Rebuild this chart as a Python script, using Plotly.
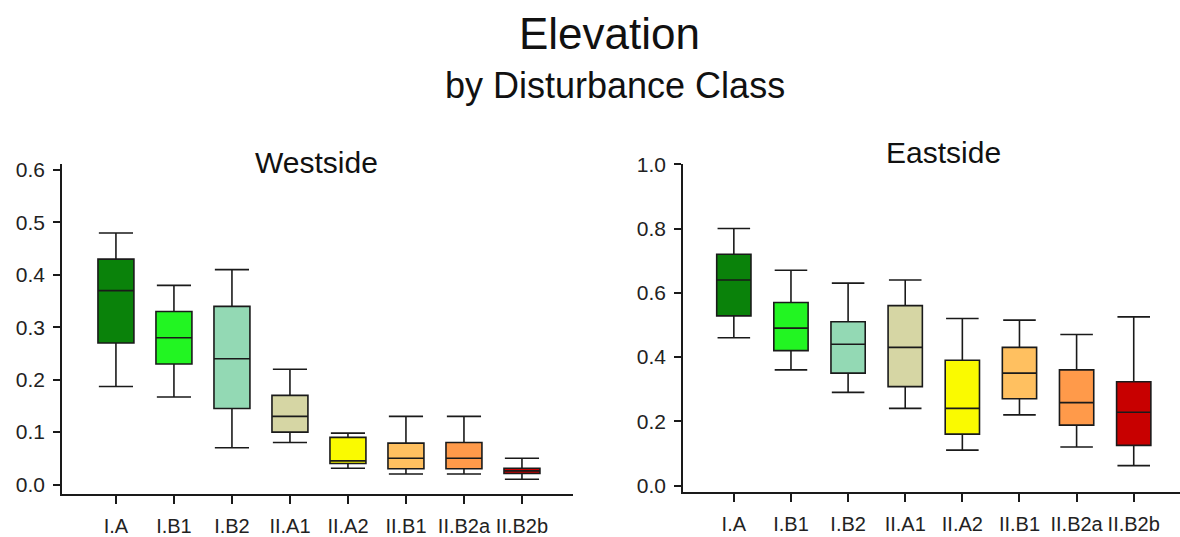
import plotly.graph_objects as go

categories = ["I.A", "I.B1", "I.B2", "II.A1", "II.A2", "II.B1", "II.B2a", "II.B2b"]
colors = ["#0a820a", "#22f522", "#93d9b4", "#d6d6a4", "#fafa00", "#ffc060", "#ff9a4a", "#c80000"]

# Westside
west_lo = [0.187, 0.167, 0.070, 0.080, 0.031, 0.020, 0.020, 0.010]
west_q1 = [0.270, 0.230, 0.145, 0.100, 0.040, 0.030, 0.030, 0.021]
west_med = [0.370, 0.280, 0.240, 0.130, 0.045, 0.050, 0.050, 0.026]
west_q3 = [0.430, 0.330, 0.340, 0.170, 0.090, 0.079, 0.080, 0.031]
west_hi = [0.480, 0.380, 0.410, 0.220, 0.098, 0.130, 0.130, 0.050]

# Eastside
east_lo = [0.460, 0.360, 0.290, 0.240, 0.110, 0.220, 0.120, 0.062]
east_q1 = [0.528, 0.420, 0.350, 0.308, 0.160, 0.270, 0.188, 0.125]
east_med = [0.640, 0.490, 0.440, 0.430, 0.240, 0.350, 0.258, 0.228]
east_q3 = [0.720, 0.570, 0.510, 0.560, 0.390, 0.430, 0.360, 0.323]
east_hi = [0.800, 0.670, 0.630, 0.640, 0.520, 0.515, 0.470, 0.525]

FONT = "Liberation Sans, Arial, sans-serif"
W, H = 1180, 537

fig = go.Figure()

def add_boxes(lo, q1, med, q3, hi, xa, ya, width):
    for i, c in enumerate(categories):
        fig.add_trace(go.Box(
            x=[i], q1=[q1[i]], median=[med[i]], q3=[q3[i]],
            lowerfence=[lo[i]], upperfence=[hi[i]],
            fillcolor=colors[i], line=dict(color="#1a1a1a", width=1.6),
            width=width, whiskerwidth=0.95, boxpoints=False,
            xaxis=xa, yaxis=ya, showlegend=False, hoverinfo="skip",
        ))

add_boxes(west_lo, west_q1, west_med, west_q3, west_hi, "x", "y", 0.62)
add_boxes(east_lo, east_q1, east_med, east_q3, east_hi, "x2", "y2", 0.60)

axis_common = dict(showgrid=False, zeroline=False, showline=True, linecolor="#1a1a1a",
                   linewidth=1.6, ticks="outside", tickcolor="#1a1a1a", tickwidth=1.6)

xt = dict(tickmode="array", tickvals=list(range(len(categories))), ticktext=categories,
          ticklen=8, tickfont=dict(family=FONT, size=20, color="#222222"), ticklabelstandoff=5)

yt = dict(tickformat=".1f", ticklen=7,
          tickfont=dict(family=FONT, size=21, color="#222222"), ticklabelstandoff=4)

fig.update_layout(
    width=W, height=H,
    margin=dict(l=0, r=0, t=0, b=0),
    paper_bgcolor="white", plot_bgcolor="white",
    boxmode="overlay",
    xaxis=dict(domain=[62 / W, 573 / W], range=[-0.93, 7.88], anchor="y", **axis_common, **xt),
    yaxis=dict(domain=[(H - 497) / H, (H - 157) / H], range=[-0.0185, 0.611], anchor="x",
               tickvals=[0, 0.1, 0.2, 0.3, 0.4, 0.5, 0.6], **yt, **axis_common),
    xaxis2=dict(domain=[683 / W, 1.0], range=[-0.89, 7.81], anchor="y2", **axis_common, **xt),
    yaxis2=dict(domain=[(H - 495) / H, (H - 157) / H], range=[-0.021, 1.0], anchor="x2",
                tickvals=[0, 0.2, 0.4, 0.6, 0.8, 1.0], **yt, **axis_common),
    annotations=[
        dict(text="Elevation", x=609 / W, y=1 - 22 / H, xref="paper", yref="paper",
             xanchor="center", yanchor="middle", showarrow=False,
             font=dict(family=FONT, size=44, color="#111111")),
        dict(text="by Disturbance Class", x=615 / W, y=1 - 76 / H, xref="paper", yref="paper",
             xanchor="center", yanchor="middle", showarrow=False,
             font=dict(family=FONT, size=36, color="#111111")),
        dict(text="Westside", x=316 / W, y=1 - 155 / H, xref="paper", yref="paper",
             xanchor="center", yanchor="middle", showarrow=False,
             font=dict(family=FONT, size=30, color="#111111")),
        dict(text="Eastside", x=943 / W, y=1 - 145 / H, xref="paper", yref="paper",
             xanchor="center", yanchor="middle", showarrow=False,
             font=dict(family=FONT, size=30, color="#111111")),
    ],
)

fig.write_html("out.html")
